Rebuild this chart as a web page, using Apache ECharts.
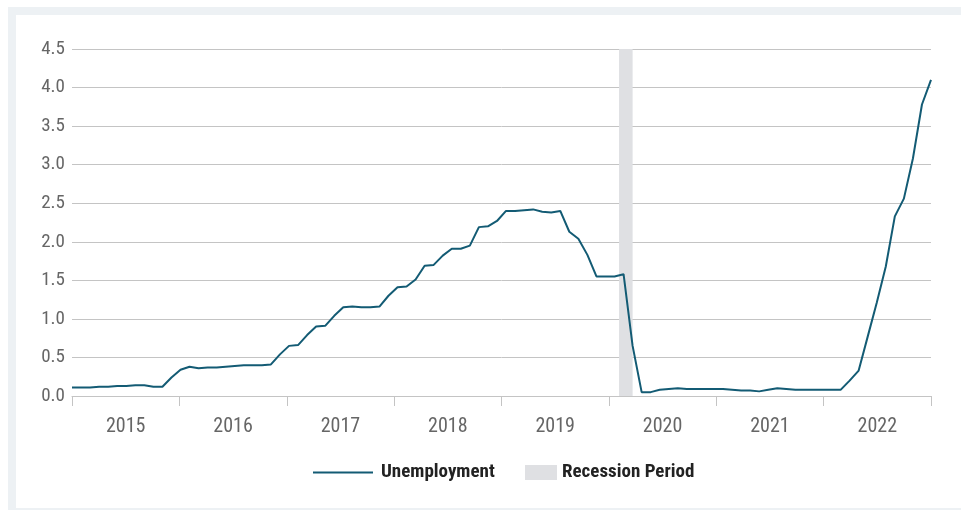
<!DOCTYPE html>
<html>
<head>
<meta charset="utf-8">
<title>Unemployment</title>
<script src="https://cdn.jsdelivr.net/npm/echarts@6/dist/echarts.min.js"></script>
<style>
  html, body { margin: 0; padding: 0; background: #fff; }
  #frame { position: absolute; left: 8px; top: 7px; width: 953px; height: 503px; background: #edf1f4; }
  #chart { position: absolute; left: 16px; top: 15px; width: 945px; height: 493px; background: #fff; }
</style>
</head>
<body>
<div id="frame"></div>
<div id="chart"></div>
<script>
// year labels under the axis
const years = ['2015', '2016', '2017', '2018', '2019', '2020', '2021', '2022']

// monthly values, Jan 2015 .. Dec 2022
const rate = [
  0.11, 0.11, 0.11, 0.12, 0.12, 0.13, 0.13, 0.14, 0.14, 0.12, 0.12, 0.24,
  0.34, 0.38, 0.36, 0.37, 0.37, 0.38, 0.39, 0.40, 0.40, 0.40, 0.41, 0.54,
  0.65, 0.66, 0.79, 0.90, 0.91, 1.04, 1.15, 1.16, 1.15, 1.15, 1.16, 1.30,
  1.41, 1.42, 1.51, 1.69, 1.70, 1.82, 1.91, 1.91, 1.95, 2.19, 2.20, 2.27,
  2.40, 2.40, 2.41, 2.42, 2.39, 2.38, 2.40, 2.13, 2.04, 1.83, 1.55, 1.55,
  1.55, 1.58, 0.65, 0.05, 0.05, 0.08, 0.09, 0.10, 0.09, 0.09, 0.09, 0.09,
  0.09, 0.08, 0.07, 0.07, 0.06, 0.08, 0.10, 0.09, 0.08, 0.08, 0.08, 0.08,
  0.08, 0.08, 0.20, 0.33, 0.77, 1.21, 1.68, 2.33, 2.56, 3.08, 3.78, 4.10
]

// recession band, in month index units (0 = Jan 2015)
const recession = [60.5, 62]

const FONT = "'Liberation Sans Narrow', 'Roboto Condensed', 'DejaVu Sans Condensed', sans-serif"
const LINE_COLOR = '#135b74'
const BAND_COLOR = '#dfe0e3'

const chart = echarts.init(document.getElementById('chart'))

const option = {
  animation: false,
  grid: { left: 56, right: 30, top: 34, bottom: 112 },
  legend: [
    {
      left: 292,
      top: 443,
      itemWidth: 60,
      itemHeight: 2,
      data: [{ name: 'Unemployment', icon: 'rect' }],
      textStyle: { fontFamily: FONT, fontSize: 19, fontWeight: 'bold', color: '#222', padding: [0, 0, 0, 3] }
    },
    {
      left: 504,
      top: 443,
      itemWidth: 32,
      itemHeight: 15,
      data: [{ name: 'Recession Period', icon: 'rect' }],
      textStyle: { fontFamily: FONT, fontSize: 19, fontWeight: 'bold', color: '#222' }
    }
  ],
  xAxis: [
    {
      type: 'category',
      data: years,
      boundaryGap: true,
      axisLine: { lineStyle: { color: '#c4c4c4', width: 1 } },
      axisTick: { show: true, interval: 0, length: 10, lineStyle: { color: '#c4c4c4' } },
      axisLabel: { fontFamily: FONT, fontSize: 20, color: '#666', margin: 21 },
      splitLine: { show: false }
    },
    {
      type: 'value',
      min: 0,
      max: rate.length - 1,
      show: false
    }
  ],
  yAxis: {
    type: 'value',
    min: 0,
    max: 4.5,
    interval: 0.5,
    axisLine: { show: false },
    axisTick: { show: false },
    axisLabel: {
      fontFamily: FONT,
      fontSize: 19,
      color: '#666',
      margin: 7,
      formatter: v => v.toFixed(1)
    },
    splitLine: { lineStyle: { color: '#c4c4c4', width: 1 } }
  },
  series: [
    {
      name: 'Recession Period',
      type: 'line',
      xAxisIndex: 1,
      data: [],
      color: BAND_COLOR,
      itemStyle: { color: BAND_COLOR },
      markArea: {
        silent: true,
        itemStyle: { color: BAND_COLOR },
        data: [[{ xAxis: recession[0] }, { xAxis: recession[1] }]]
      }
    },
    {
      name: 'Unemployment',
      type: 'line',
      xAxisIndex: 1,
      data: rate.map((v, i) => [i, v]),
      showSymbol: false,
      symbol: 'none',
      color: LINE_COLOR,
      lineStyle: { color: LINE_COLOR, width: 2 },
      z: 3
    }
  ]
}

chart.setOption(option)
</script>
</body>
</html>
